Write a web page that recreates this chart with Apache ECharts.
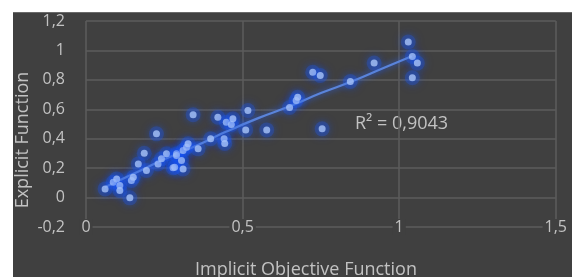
<!DOCTYPE html>
<html>
<head>
<meta charset="utf-8">
<script src="https://cdn.jsdelivr.net/npm/echarts@6/dist/echarts.min.js"></script>
<style>
  html, body { margin: 0; padding: 0; background: #ffffff; }
  #bg { position: absolute; left: 13px; top: 12px; width: 559px; height: 265px; background: #404040; border-top: 1px solid #6a6a6a; box-sizing: border-box; }
  #chart { position: absolute; left: 0; top: 0; width: 572px; height: 277px; }
</style>
</head>
<body>
<div id="bg"></div>
<div id="chart"></div>
<script>
// implicit objective function (x) vs explicit function (y)
const implicitVals = [0.061, 0.087, 0.098, 0.108, 0.108, 0.140, 0.145, 0.151, 0.167, 0.186,
  0.193, 0.225, 0.230, 0.241, 0.257, 0.278, 0.283, 0.289, 0.289, 0.305,
  0.310, 0.310, 0.321, 0.326, 0.342, 0.358, 0.398, 0.421, 0.441, 0.443,
  0.448, 0.464, 0.469, 0.510, 0.517, 0.577, 0.650, 0.671, 0.676, 0.724,
  0.748, 0.754, 0.844, 0.920, 1.029, 1.042, 1.058, 1.042];
const explicitVals = [0.059, 0.104, 0.127, 0.082, 0.048, -0.002, 0.116, 0.138, 0.229, 0.301,
  0.184, 0.433, 0.229, 0.263, 0.297, 0.202, 0.206, 0.297, 0.286, 0.252,
  0.195, 0.320, 0.342, 0.365, 0.563, 0.331, 0.400, 0.546, 0.400, 0.368,
  0.512, 0.497, 0.535, 0.460, 0.592, 0.460, 0.612, 0.660, 0.682, 0.852,
  0.830, 0.467, 0.789, 0.914, 1.057, 0.959, 0.914, 0.814];

// trendline
const trendX = [0.06, 0.15, 0.25, 0.35, 0.45, 0.55, 0.65, 0.75, 0.85, 0.95, 1.04];
const trendY = [0.07, 0.16, 0.26, 0.35, 0.45, 0.54, 0.62, 0.71, 0.79, 0.88, 0.96];

const xTicks = { min: 0, max: 1.5, interval: 0.5 };
const yTicks = { min: -0.2, max: 1.2, interval: 0.2 };
const r2Label = 'R² = 0,9043';

const textColor = '#c2c2c2';
const gridColor = '#5d5d5d';
const font = 'Open Sans';

const comma = v => String(Math.round(v * 10) / 10).replace('.', ',');

const chart = echarts.init(document.getElementById('chart'));
const points = implicitVals.map((x, i) => [x, explicitVals[i]]);

chart.setOption({
  animation: false,
  backgroundColor: 'transparent',
  grid: { left: 86, right: 14, top: 21, bottom: 50 },
  xAxis: {
    type: 'value',
    min: xTicks.min, max: xTicks.max, interval: xTicks.interval,
    axisLine: { show: false },
    axisTick: { show: false },
    splitLine: { show: true, lineStyle: { color: gridColor, width: 1.5 } },
    axisLabel: {
      margin: -8, color: textColor, fontSize: 16, fontFamily: font,
      backgroundColor: '#404040', padding: [0, 2],
      formatter: comma
    }
  },
  yAxis: {
    type: 'value',
    min: yTicks.min, max: yTicks.max, interval: yTicks.interval,
    axisLine: { show: false },
    axisTick: { show: false },
    splitLine: { show: true, lineStyle: { color: gridColor, width: 1.5 } },
    axisLabel: {
      margin: 21, color: textColor, fontSize: 16, fontFamily: font,
      formatter: comma
    }
  },
  graphic: [
    {
      type: 'text', x: 23, y: 140, rotation: Math.PI / 2,
      style: { text: 'Explicit Function', fill: textColor, fontSize: 18, fontFamily: font,
        textAlign: 'center', textVerticalAlign: 'middle' }
    },
    {
      type: 'text', x: 306, y: 270,
      style: { text: 'Implicit Objective Function', fill: textColor, fontSize: 18, fontFamily: font,
        textAlign: 'center', textVerticalAlign: 'middle' }
    },
    {
      type: 'text', x: 355, y: 124,
      style: { text: r2Label, fill: textColor, fontSize: 18, fontFamily: font,
        textAlign: 'left', textVerticalAlign: 'middle' }
    }
  ],
  series: [
    {
      // soft blue halo under the markers
      type: 'scatter',
      data: points,
      symbolSize: 15,
      z: 0,
      silent: true,
      itemStyle: { color: 'rgba(30,90,240,0.35)', shadowBlur: 10, shadowColor: 'rgba(30,90,255,0.9)' }
    },
    {
      type: 'line',
      data: trendX.map((x, i) => [x, trendY[i]]),
      showSymbol: false,
      smooth: true,
      z: 1,
      lineStyle: { color: '#5a84da', width: 2.2, shadowBlur: 6, shadowColor: 'rgba(40,100,255,0.9)' }
    },
    {
      type: 'scatter',
      data: points,
      symbolSize: 7,
      z: 2,
      itemStyle: {
        color: '#a9c4f7',
        shadowBlur: 8,
        shadowColor: 'rgba(25,85,255,1)'
      }
    }
  ]
});
</script>
</body>
</html>
